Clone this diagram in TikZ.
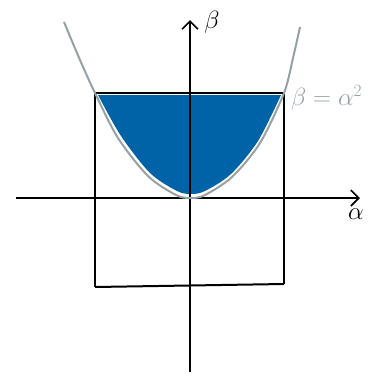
\documentclass[tikz,border=0pt]{standalone}
\usetikzlibrary{arrows.meta}
\definecolor{fillblue}{RGB}{0,99,168}
\definecolor{curvegray}{RGB}{150,160,165}
\tikzset{
  axis/.style={black, line width=1.8pt, -{Straight Barb[length=8pt,width=16pt,line width=1.6pt]}},
  boxline/.style={black, line width=2pt},
  curve/.style={curvegray, line width=2pt},
  lbl/.style={font=\fontsize{24}{28}\selectfont},
}
\begin{document}
\begin{tikzpicture}[x=1pt,y=-1pt]
\useasboundingbox (0,0) rectangle (389,376);
% fill region
\fill[fillblue] (98,95) -- (281,95) -- plot[smooth] coordinates {(281,95) (258,141) (231,174) (205,191) (191,194) (177,191) (150,173) (121,136) (98,95)} -- cycle;
% coordinates
\coordinate (xs) at (16,198);
\coordinate (xe) at (360,198);
\coordinate (ys) at (190,372);
\coordinate (ye) at (190,20);
\coordinate (b1) at (95,93);
\coordinate (b2) at (284,93);
\coordinate (b3) at (284,284);
\coordinate (b4) at (95,287);
% box
\draw[boxline] (b4) -- (b1) -- (b2) -- (b3);
\draw[boxline] (b4) -- (b3);
% axes
\draw[axis] (xs) -- (xe);
\draw[axis] (ys) -- (ye);
% parabola
\draw[curve] plot[smooth] coordinates {(64,22) (80,60) (95,93) (118,138) (148,176) (176,195) (191,198) (205,195) (232,177) (260,143) (284,93) (293,58) (300,27)};
% labels
\node[lbl] (lb) at (212,22) {$\beta$};
\node[lbl] (la) at (356,214) {$\alpha$};
\node[lbl, curvegray, anchor=west, inner sep=0pt] (lp) at (291,98) {$\beta=\alpha^2$};
\end{tikzpicture}
\end{document}
